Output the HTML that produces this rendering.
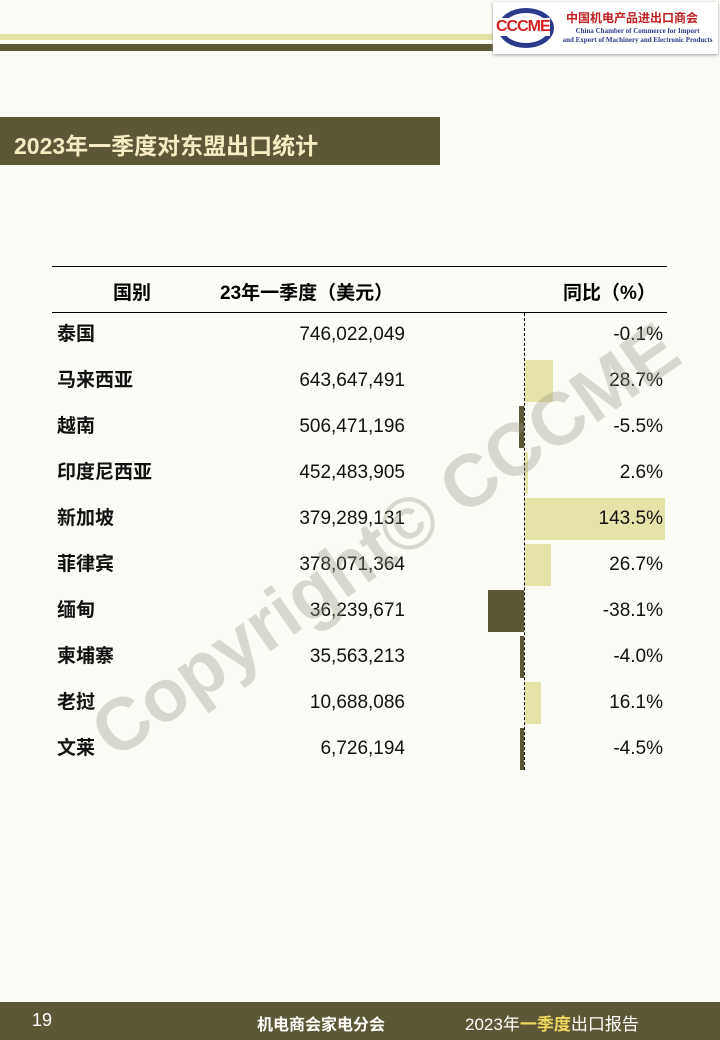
<!DOCTYPE html>
<html><head><meta charset="utf-8"><style>
body{margin:0;width:720px;height:1040px;background:#fcfcf7;position:relative;overflow:hidden;font-family:"Liberation Sans","Noto Sans CJK SC",sans-serif;}
.abs{position:absolute}
.row{position:absolute;left:0;width:720px;height:46px;font-size:19px;color:#111;line-height:46px}
.row .n{position:absolute;left:57px;top:0;font-weight:bold}
.row .v{position:absolute;right:315px;top:0}
.row .p{position:absolute;right:57px;top:0}
.bar{position:absolute;top:2px;height:42px}
</style></head><body>
<div class="abs" style="left:0;top:34px;width:500px;height:6px;background:#e5e3a8"></div>
<div class="abs" style="left:0;top:44px;width:500px;height:7px;background:#5c5737"></div>
<div class="abs" style="left:493px;top:2px;width:225px;height:52px;background:#fff;box-shadow:0 1px 3px #999"></div>
<div class="abs" style="left:498px;top:8px;width:56px;height:40px;border-radius:50%;border:5px solid #2b3a8c;box-sizing:border-box"></div>
<div class="abs" style="left:496px;top:18px;font-size:16px;font-weight:bold;color:#d42020;background:#fff;letter-spacing:-1px">CCCME</div>
<div class="abs" style="left:566px;top:9px;font-size:12px;font-weight:bold;color:#c02020">中国机电产品进出口商会</div>
<div class="abs" style="left:560px;top:27px;width:155px;text-align:center;font-size:7px;line-height:9px;color:#2b3a8c;font-family:'Liberation Serif',serif;font-weight:bold">China Chamber of Commerce for Import<br>and Export of Machinery and Electronic Products</div>

<div class="abs" style="left:0;top:117px;width:440px;height:48px;background:#5c5737"></div>
<div class="abs" style="left:14px;top:127px;font-size:23px;font-weight:bold;color:#f5ecc0">2023年一季度对东盟出口统计</div>

<div class="abs" style="left:52px;top:266px;width:615px;height:1px;background:#000"></div>
<div class="abs" style="left:52px;top:312px;width:615px;height:1px;background:#000"></div>
<div class="abs" style="left:113px;top:278px;font-size:19px;font-weight:bold">国别</div>
<div class="abs" style="left:220px;top:278px;font-size:19px;font-weight:bold">23年一季度（美元）</div>
<div class="abs" style="left:563px;top:278px;font-size:19px;font-weight:bold">同比（%）</div>
<div class="abs" style="left:524px;top:313px;height:457px;border-left:1px dashed #000"></div>

<div class="row" style="top:312px"><span class="n">泰国</span><span class="v">746,022,049</span><span class="p">-0.1%</span></div>
<div class="row" style="top:358px"><div class="bar" style="left:525px;width:28px;background:#e5e3a8"></div><span class="n">马来西亚</span><span class="v">643,647,491</span><span class="p">28.7%</span></div>
<div class="row" style="top:404px"><div class="bar" style="left:519px;width:5px;background:#5c5737"></div><span class="n">越南</span><span class="v">506,471,196</span><span class="p">-5.5%</span></div>
<div class="row" style="top:450px"><div class="bar" style="left:525px;width:3px;background:#e5e3a8"></div><span class="n">印度尼西亚</span><span class="v">452,483,905</span><span class="p">2.6%</span></div>
<div class="row" style="top:496px"><div class="bar" style="left:525px;width:140px;background:#e5e3a8"></div><span class="n">新加坡</span><span class="v">379,289,131</span><span class="p">143.5%</span></div>
<div class="row" style="top:542px"><div class="bar" style="left:525px;width:26px;background:#e5e3a8"></div><span class="n">菲律宾</span><span class="v">378,071,364</span><span class="p">26.7%</span></div>
<div class="row" style="top:588px"><div class="bar" style="left:488px;width:36px;background:#5c5737"></div><span class="n">缅甸</span><span class="v">36,239,671</span><span class="p">-38.1%</span></div>
<div class="row" style="top:634px"><div class="bar" style="left:520px;width:4px;background:#5c5737"></div><span class="n">柬埔寨</span><span class="v">35,563,213</span><span class="p">-4.0%</span></div>
<div class="row" style="top:680px"><div class="bar" style="left:525px;width:16px;background:#e5e3a8"></div><span class="n">老挝</span><span class="v">10,688,086</span><span class="p">16.1%</span></div>
<div class="row" style="top:726px"><div class="bar" style="left:520px;width:4px;background:#5c5737"></div><span class="n">文莱</span><span class="v">6,726,194</span><span class="p">-4.5%</span></div>

<div class="abs" style="left:385px;top:540px;transform:translate(-50%,-50%) rotate(-35deg);font-size:74px;font-weight:bold;color:rgba(150,150,130,0.35);white-space:nowrap">Copyright© CCCME</div>

<div class="abs" style="left:0;top:1002px;width:720px;height:38px;background:#5c5737"></div>
<div class="abs" style="left:32px;top:1010px;font-size:18px;color:#fff">19</div>
<div class="abs" style="left:257px;top:1011px;font-size:16px;font-weight:bold;color:#fff">机电商会家电分会</div>
<div class="abs" style="left:465px;top:1010px;font-size:17px;color:#fff">2023年<b style="color:#f0d860">一季度</b>出口报告</div>
</body></html>
